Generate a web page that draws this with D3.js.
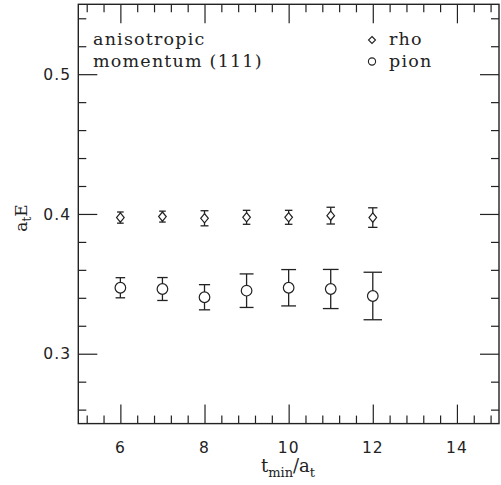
<!DOCTYPE html>
<html><head><meta charset="utf-8">
<script src="https://cdn.jsdelivr.net/npm/d3@7"></script>
<style>body{margin:0;background:#fff}svg{display:block}</style>
</head><body>
<script>
const tmin = [6, 7, 8, 9, 10, 11, 12];
const rho = [0.3974, 0.3981, 0.3969, 0.3976, 0.3976, 0.3988, 0.3974];
const rhoErr = [0.0040, 0.0039, 0.0054, 0.0050, 0.0050, 0.0060, 0.0070];
const pion = [0.3472, 0.3463, 0.3404, 0.3451, 0.3472, 0.3463, 0.3413];
const pionErr = [0.0072, 0.0082, 0.0090, 0.0120, 0.0130, 0.0140, 0.0170];
const xMajorTicks = [6, 8, 10, 12, 14];
const yMajorTicks = [0.3, 0.4, 0.5];
const legendLabels = ["rho", "pion"];
const noteLines = ["anisotropic", "momentum (111)"];

const W = 501, H = 485;
const svg = d3.select("body").append("svg").attr("width", W).attr("height", H);
const x = d3.scaleLinear().domain([5, 15]).range([78.3, 499]);
const y = d3.scaleLinear().domain([0.25, 0.55]).range([423.6, 4.3]);

const col = "#222";
const serif = "'DejaVu Serif', serif";
const sans = "'DejaVu Sans', sans-serif";

const xMinor = d3.range(0, 26).map(k => +(4.8 + 0.4 * k).toFixed(2)).filter(v => v > 5 && v < 15 && xMajorTicks.indexOf(v) < 0);
const yMinor = d3.range(0.26, 0.55, 0.02).map(v => +v.toFixed(2)).filter(v => yMajorTicks.indexOf(v) < 0 && v < 0.549);

const MAJ = 19, MIN = 8;
const gAx = svg.append("g");
gAx.append("g").attr("transform", `translate(0,${y.range()[0]})`).call(d3.axisTop(x).tickValues(xMajorTicks).tickSize(MAJ).tickFormat(""));
gAx.append("g").attr("transform", `translate(0,${y.range()[0]})`).call(d3.axisTop(x).tickValues(xMinor).tickSize(MIN).tickFormat(""));
gAx.append("g").attr("transform", `translate(0,${y.range()[1]})`).call(d3.axisBottom(x).tickValues(xMajorTicks).tickSize(MAJ).tickFormat(""));
gAx.append("g").attr("transform", `translate(0,${y.range()[1]})`).call(d3.axisBottom(x).tickValues(xMinor).tickSize(MIN).tickFormat(""));
gAx.append("g").attr("transform", `translate(${x.range()[0]},0)`).call(d3.axisRight(y).tickValues(yMajorTicks).tickSize(MAJ).tickFormat(""));
gAx.append("g").attr("transform", `translate(${x.range()[0]},0)`).call(d3.axisRight(y).tickValues(yMinor).tickSize(MIN).tickFormat(""));
gAx.append("g").attr("transform", `translate(${x.range()[1]},0)`).call(d3.axisLeft(y).tickValues(yMajorTicks).tickSize(MAJ).tickFormat(""));
gAx.append("g").attr("transform", `translate(${x.range()[1]},0)`).call(d3.axisLeft(y).tickValues(yMinor).tickSize(MIN).tickFormat(""));
gAx.selectAll(".domain").remove();
gAx.selectAll("line").attr("stroke", col).attr("stroke-width", 1.2);

svg.append("rect").attr("x", x.range()[0]).attr("y", y.range()[1])
  .attr("width", x.range()[1] - x.range()[0]).attr("height", y.range()[0] - y.range()[1])
  .attr("fill", "none").attr("stroke", col).attr("stroke-width", 1.4);

svg.append("g").selectAll("text").data(xMajorTicks).join("text")
  .attr("x", d => x(d)).attr("y", 453).attr("text-anchor", "middle")
  .attr("font-family", sans).attr("font-size", 15.5).attr("letter-spacing", 1).attr("fill", col)
  .text(d => d);
svg.append("g").selectAll("text").data(yMajorTicks).join("text")
  .attr("x", 71).attr("y", d => y(d) + 5.6).attr("text-anchor", "end")
  .attr("font-family", sans).attr("font-size", 15.5).attr("letter-spacing", 1).attr("fill", col)
  .text(d => d3.format(".1f")(d));

const xt = svg.append("text").attr("x", 288).attr("y", 472).attr("text-anchor", "middle")
  .attr("font-family", serif).attr("font-size", 18).attr("fill", col);
xt.append("tspan").text("t");
xt.append("tspan").attr("font-size", 13).attr("dy", 4.5).text("min");
xt.append("tspan").attr("dy", -4.5).text("/a");
xt.append("tspan").attr("font-size", 13).attr("dy", 4.5).text("t");

const yt = svg.append("text").attr("transform", "translate(27,218) rotate(-90)").attr("text-anchor", "middle")
  .attr("font-family", serif).attr("font-size", 17).attr("fill", col);
yt.append("tspan").text("a");
yt.append("tspan").attr("font-size", 12).attr("dy", 4).text("t");
yt.append("tspan").attr("dy", -4).text("E");

function errBars(vals, errs) {
  const g = svg.append("g").attr("stroke", col).attr("stroke-width", 1.3).attr("fill", "none");
  tmin.forEach((t, i) => {
    const cx = x(t), y1 = y(vals[i] + errs[i]), y2 = y(vals[i] - errs[i]);
    const hw = (0.65 * (y2 - y1) / 2 + 3) / 2;
    g.append("line").attr("x1", cx).attr("x2", cx).attr("y1", y1).attr("y2", y2);
    g.append("line").attr("x1", cx - hw).attr("x2", cx + hw).attr("y1", y1).attr("y2", y1);
    g.append("line").attr("x1", cx - hw).attr("x2", cx + hw).attr("y1", y2).attr("y2", y2);
  });
  return g;
}
errBars(rho, rhoErr);
errBars(pion, pionErr);

function diamond(hw, hh) { return `M0,${-hh}L${hw},0L0,${hh}L${-hw},0Z`; }
svg.append("g").selectAll("path").data(tmin).join("path")
  .attr("transform", (d, i) => `translate(${x(d)},${y(rho[i])})`)
  .attr("d", diamond(3.8, 4.6)).attr("fill", "#fff").attr("stroke", col).attr("stroke-width", 1.2);
svg.append("g").selectAll("circle").data(tmin).join("circle")
  .attr("cx", d => x(d)).attr("cy", (d, i) => y(pion[i])).attr("r", 5.3)
  .attr("fill", "#fff").attr("stroke", col).attr("stroke-width", 1.2);

svg.append("g").selectAll("text").data(noteLines).join("text")
  .attr("x", 93).attr("y", (d, i) => 45 + i * 22)
  .attr("font-family", serif).attr("font-size", 17.5).attr("letter-spacing", 1.2).attr("fill", col)
  .text(d => d);

const lg = svg.append("g");
lg.append("path").attr("transform", "translate(372,40)").attr("d", diamond(3.5, 3.5))
  .attr("fill", "none").attr("stroke", col).attr("stroke-width", 1.1);
lg.append("circle").attr("cx", 372).attr("cy", 61.5).attr("r", 3.6)
  .attr("fill", "none").attr("stroke", col).attr("stroke-width", 1.1);
lg.selectAll("text").data(legendLabels).join("text")
  .attr("x", 389).attr("y", (d, i) => 45 + i * 22)
  .attr("font-family", serif).attr("font-size", 17.5).attr("letter-spacing", 1.2).attr("fill", col)
  .text(d => d);
</script>
</body></html>
